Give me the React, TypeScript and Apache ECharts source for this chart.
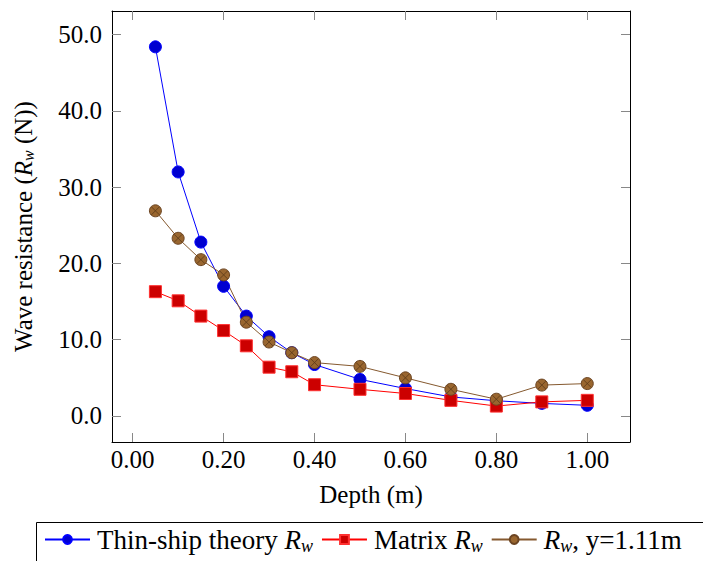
import React, { useEffect, useRef } from "react";
import * as echarts from "echarts";

const depth = [0.05, 0.1, 0.15, 0.2, 0.25, 0.3, 0.35, 0.4, 0.5, 0.6, 0.7, 0.8, 0.9, 1.0];
const thinShip = [48.4, 32.0, 22.8, 17.0, 13.1, 10.4, 8.3, 6.75, 4.8, 3.6, 2.5, 2.0, 1.65, 1.4];
const matrixRw = [16.3, 15.1, 13.1, 11.2, 9.2, 6.4, 5.8, 4.1, 3.5, 2.95, 2.05, 1.3, 1.85, 2.05];
const yRw = [26.9, 23.3, 20.5, 18.5, 12.3, 9.7, 8.3, 7.0, 6.5, 5.0, 3.5, 2.2, 4.05, 4.25];
const xTicks = [0, 0.2, 0.4, 0.6, 0.8, 1.0];
const yTicks = [0, 10, 20, 30, 40, 50];
const seriesNames = ["Thin-ship theory", "Matrix", "y=1.11m"];

const FONT = "'Liberation Serif', 'Times New Roman', serif";

export default function App() {
  const ref = useRef<HTMLDivElement>(null);
  useEffect(() => {
    if (!ref.current) return;
    const chart = echarts.init(ref.current, null, { renderer: "svg" });
    const pairs = (ys: number[]) => depth.map((d, i) => [d, ys[i]]);
    const xMin = -0.0455, xMax = 1.094, yMin = -3.41, yMax = 53.1;
    const tickStyle = { show: true, inside: true, length: 9, lineStyle: { color: "#888", width: 1 } };
    const rich = {
      n: { fontFamily: FONT, fontSize: 27, color: "#000", lineHeight: 30 },
      i: { fontFamily: FONT, fontSize: 27, fontStyle: "italic", color: "#000", lineHeight: 30 },
      s: { fontFamily: FONT, fontSize: 18, fontStyle: "italic", color: "#000", lineHeight: 18, verticalAlign: "bottom" },
    };
    const richY = {
      n: { fontFamily: FONT, fontSize: 25, color: "#000", lineHeight: 26 },
      i: { fontFamily: FONT, fontSize: 25, fontStyle: "italic", color: "#000", lineHeight: 26 },
      s: { fontFamily: FONT, fontSize: 16, fontStyle: "italic", color: "#000", lineHeight: 16, verticalAlign: "bottom" },
    };
    chart.setOption({
      animation: false,
      backgroundColor: "#fff",
      grid: { left: 112, right: 73, top: 11, bottom: 119 },
      xAxis: [
        {
          type: "value", min: xMin, max: xMax, position: "bottom",
          name: "Depth (m)", nameLocation: "middle", nameGap: 40,
          nameTextStyle: { fontFamily: FONT, fontSize: 25, color: "#000" },
          axisLine: { show: true, onZero: false, lineStyle: { color: "#000", width: 1 } },
          axisTick: { ...tickStyle, customValues: xTicks },
          axisLabel: { customValues: xTicks, fontFamily: FONT, fontSize: 25, color: "#000", margin: 5, formatter: (v: number) => v.toFixed(2) },
          splitLine: { show: false },
        },
        {
          type: "value", min: xMin, max: xMax, position: "top",
          axisLine: { show: true, onZero: false, lineStyle: { color: "#000", width: 1 } },
          axisTick: { ...tickStyle, customValues: xTicks },
          axisLabel: { show: false },
          splitLine: { show: false },
        },
      ],
      yAxis: [
        {
          type: "value", min: yMin, max: yMax, position: "left",
          name: "{n|Wave resistance (}{i|R}{s|w}{n| (N))}", nameLocation: "middle", nameGap: 76, nameRotate: 90,
          nameTextStyle: { rich: richY },
          axisLine: { show: true, onZero: false, lineStyle: { color: "#000", width: 1 } },
          axisTick: { ...tickStyle, customValues: yTicks },
          axisLabel: { customValues: yTicks, fontFamily: FONT, fontSize: 25, color: "#000", margin: 10, formatter: (v: number) => v.toFixed(1) },
          splitLine: { show: false },
        },
        {
          type: "value", min: yMin, max: yMax, position: "right",
          axisLine: { show: true, onZero: false, lineStyle: { color: "#000", width: 1 } },
          axisTick: { ...tickStyle, customValues: yTicks },
          axisLabel: { show: false },
          splitLine: { show: false },
        },
      ],
      legend: {
        data: seriesNames,
        left: 44, top: 526, padding: 0, itemGap: 8, itemWidth: 45, itemHeight: 11,
        formatter: (name: string) => {
          if (name === "Thin-ship theory") return "{n|Thin-ship theory }{i|R}{s|w}";
          if (name === "Matrix") return "{n|Matrix }{i|R}{s|w}";
          return "{i|R}{s|w}{n|, y=1.11m}";
        },
        textStyle: { rich, fontFamily: FONT, fontSize: 27, color: "#000", padding: [0, 0, 0, 2] },
      },
      graphic: [
        { type: "rect", left: 34, top: 520, shape: { width: 720, height: 60 }, style: { fill: "none", stroke: "#000", lineWidth: 1 }, z: 10 },
      ],
      series: [
        {
          name: seriesNames[0], type: "line", data: pairs(thinShip), symbol: "circle", symbolSize: 12,
          lineStyle: { color: "#0000ff", width: 1 },
          itemStyle: { color: "#0000d0", borderColor: "#0000ff", borderWidth: 1 },
        },
        {
          name: seriesNames[1], type: "line", data: pairs(matrixRw), symbol: "rect", symbolSize: 12,
          lineStyle: { color: "#ff0000", width: 1 },
          itemStyle: { color: "#cc0000", borderColor: "#ff3030", borderWidth: 1 },
        },
        {
          name: seriesNames[2], type: "line", data: pairs(yRw), symbol: "circle", symbolSize: 12,
          lineStyle: { color: "#85592f", width: 1 },
          itemStyle: { color: "#99662f", borderColor: "#6b4422", borderWidth: 1 },
        },
        {
          name: "cross", type: "scatter", data: pairs(yRw), symbol: "path://M0 0L10 10M10 0L0 10", symbolSize: 8,
          itemStyle: { color: "none", borderColor: "#5a3818", borderWidth: 1 },
          z: 3, silent: true,
        },
      ],
    });
    return () => chart.dispose();
  }, []);
  return <div ref={ref} style={{ position: "fixed", left: 0, top: 0, width: 703, height: 561 }} />;
}
